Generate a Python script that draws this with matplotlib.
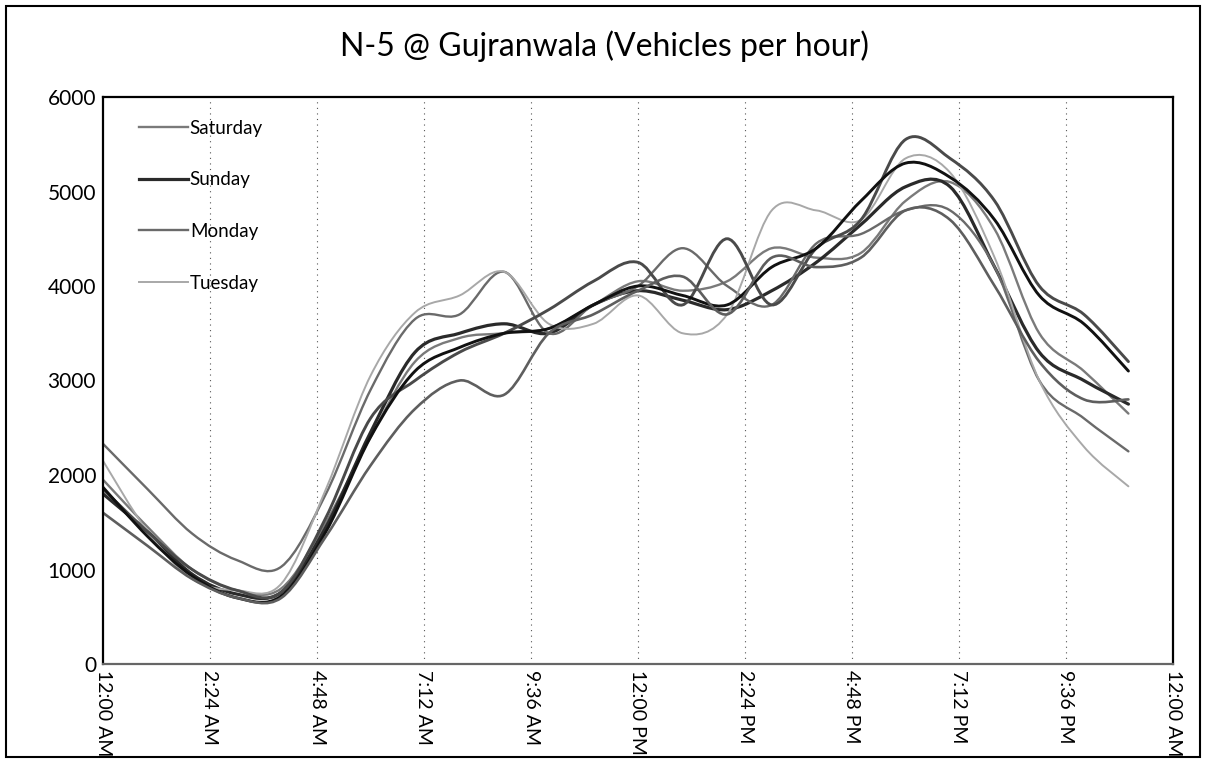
import numpy as np
import matplotlib
matplotlib.use("Agg")
import matplotlib.pyplot as plt
from matplotlib.path import Path
from matplotlib.patches import PathPatch, Rectangle
from matplotlib.lines import Line2D

plt.rcParams['font.family'] = ['Lato', 'DejaVu Sans']

hours = list(range(24))

saturday  = [1950, 1450, 1000, 780, 800, 1500, 2400, 3200, 3450, 3500, 3550, 3800, 4050, 3950, 4050, 4400, 4300, 4350, 4900, 5100, 4600, 3500, 3100, 2650]
sunday    = [1800, 1400,  950, 740, 760, 1450, 2450, 3300, 3500, 3600, 3500, 3800, 3950, 3850, 3750, 3950, 4250, 4650, 5050, 5050, 4200, 3300, 3000, 2750]
monday    = [2330, 1850, 1380, 1100, 1030, 1800, 2900, 3650, 3700, 4150, 3500, 3800, 4000, 4400, 4000, 3800, 4450, 4550, 4800, 4800, 4200, 3000, 2600, 2250]
tuesday   = [2150, 1400,  900, 780, 850, 1850, 3050, 3720, 3900, 4150, 3600, 3600, 3900, 3500, 3700, 4800, 4800, 4700, 5350, 5200, 4300, 3000, 2300, 1880]
wednesday = [1850, 1400, 1000, 780, 760, 1550, 2600, 3000, 3300, 3500, 3750, 4050, 4250, 3800, 4500, 3800, 4400, 4700, 5550, 5350, 4900, 4000, 3700, 3200]
thursday  = [1870, 1350,  930, 700, 720, 1400, 2400, 3100, 3350, 3500, 3550, 3800, 4000, 3900, 3800, 4200, 4400, 4900, 5300, 5150, 4700, 3900, 3600, 3100]
friday    = [1600, 1250,  900, 700, 700, 1350, 2100, 2700, 3000, 2850, 3500, 3700, 3950, 4100, 3700, 4300, 4200, 4300, 4800, 4700, 4000, 3200, 2800, 2800]

series_names = ["Saturday", "Sunday", "Monday", "Tuesday", "Wednesday", "Thursday", "Friday"]
series_vals = [saturday, sunday, monday, tuesday, wednesday, thursday, friday]
series_colors = ["#7a7a7a", "#2a2a2a", "#6a6a6a", "#a8a8a8", "#4a4a4a", "#111111", "#5e5e5e"]
series_lw = [1.7, 2.3, 1.7, 1.4, 2.1, 2.1, 1.9]
legend_count = 4

xtick_pos = [0, 2.4, 4.8, 7.2, 9.6, 12, 14.4, 16.8, 19.2, 21.6, 24]
xtick_labels = ["12:00 AM", "2:24 AM", "4:48 AM", "7:12 AM", "9:36 AM", "12:00 PM",
                "2:24 PM", "4:48 PM", "7:12 PM", "9:36 PM", "12:00 AM"]
ytick_pos = [0, 1000, 2000, 3000, 4000, 5000, 6000]


def smooth_path(x, y):
    n = len(x)
    verts = [(x[0], y[0])]
    codes = [Path.MOVETO]
    for i in range(n - 1):
        x0, y0 = x[max(i - 1, 0)], y[max(i - 1, 0)]
        x3, y3 = x[min(i + 2, n - 1)], y[min(i + 2, n - 1)]
        c1 = (x[i] + (x[i + 1] - x0) / 6.0, y[i] + (y[i + 1] - y0) / 6.0)
        c2 = (x[i + 1] - (x3 - x[i]) / 6.0, y[i + 1] - (y3 - y[i]) / 6.0)
        verts += [c1, c2, (x[i + 1], y[i + 1])]
        codes += [Path.CURVE4] * 3
    return Path(verts, codes)


fig = plt.figure(figsize=(12.10, 7.63), dpi=100)
ax = fig.add_axes([103 / 1210, 1 - 664 / 763, (1173 - 103) / 1210, (664 - 97) / 763])

for vals, col, lw in zip(series_vals, series_colors, series_lw):
    p = smooth_path(hours, vals)
    ax.add_patch(PathPatch(p, facecolor="none", edgecolor=col, lw=lw, capstyle="round"))

ax.set_xlim(0, 24)
ax.set_ylim(0, 6000)
ax.set_xticks(xtick_pos)
ax.set_xticklabels(xtick_labels, rotation=-90, fontsize=14, va="top", ha="center")
ax.set_yticks(ytick_pos)
ax.set_yticklabels([str(v) for v in ytick_pos], fontsize=15)
ax.tick_params(axis="x", length=0, pad=4)
ax.tick_params(axis="y", length=0, pad=5)

for xv in xtick_pos[1:-1]:
    ax.axvline(xv, color="#555555", lw=0.8, ls=(0, (1, 4)), zorder=0)

for s in ax.spines.values():
    s.set_color("black")
    s.set_linewidth(1.6)
ax.spines["bottom"].set_color("#666666")

handles = [Line2D([], [], color=series_colors[i], lw=series_lw[i]) for i in range(legend_count)]
ax.legend(handles, series_names[:legend_count], loc="upper left", bbox_to_anchor=(0.018, 0.99),
          frameon=False, fontsize=13.5, labelspacing=1.85, handlelength=2.6, handletextpad=0.1)

fig.text(0.5, 1 - 46 / 763, "N-5 @ Gujranwala (Vehicles per hour)", ha="center", va="center", fontsize=23)

fig.patches.append(Rectangle((6 / 1210, 6 / 763), 1194 / 1210, 751 / 763, transform=fig.transFigure,
                             fill=False, edgecolor="black", lw=1.5))

fig.savefig("out.png", dpi=100, facecolor="white")
